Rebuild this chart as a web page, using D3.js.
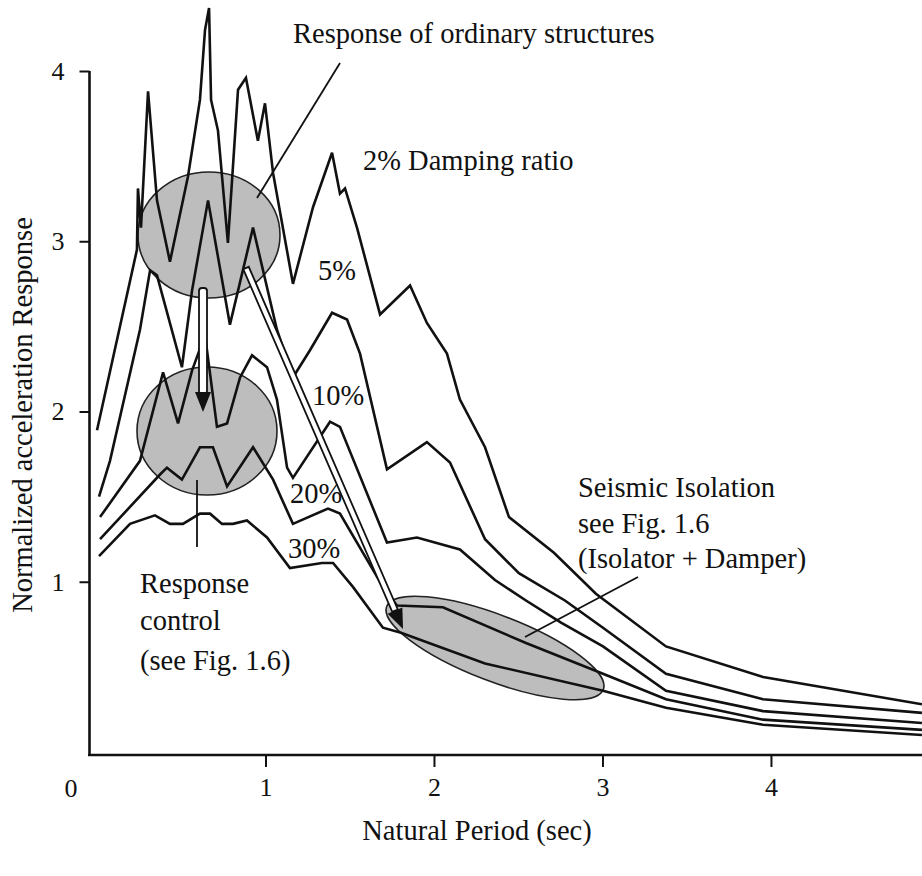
<!DOCTYPE html>
<html><head><meta charset="utf-8">
<script src="https://cdn.jsdelivr.net/npm/d3@7"></script>
<style>
html,body{margin:0;padding:0;background:#fff;}
svg{display:block;font-family:"Liberation Serif","Times New Roman",serif;}
</style></head><body>
<svg id="chart" width="922" height="876"></svg>
<script>
// ---- data (period in sec, normalized acceleration response) ----
const xTicks = [1, 2, 3, 4];
const yTicks = [1, 2, 3, 4];
const damp2 = [[0.000,1.89],[0.237,2.95],[0.243,3.31],[0.261,3.08],[0.303,3.88],[0.356,3.24],[0.433,2.88],[0.540,3.38],[0.611,3.83],[0.641,4.24],[0.665,4.37],[0.677,3.83],[0.718,3.65],[0.777,2.99],[0.837,3.89],[0.884,3.96],[0.955,3.59],[0.997,3.81],[1.045,3.40],[1.163,2.75],[1.282,3.20],[1.395,3.52],[1.442,3.28],[1.472,3.31],[1.543,3.08],[1.680,2.57],[1.858,2.74],[1.958,2.52],[2.077,2.34],[2.154,2.07],[2.303,1.79],[2.445,1.38],[2.712,1.17],[2.961,0.93],[3.377,0.62],[3.953,0.44],[4.896,0.28]];
const damp5 = [[0.012,1.50],[0.077,1.71],[0.255,2.48],[0.315,2.83],[0.356,2.80],[0.504,2.26],[0.564,2.71],[0.659,3.24],[0.789,2.51],[0.926,3.08],[1.068,2.48],[1.163,2.20],[1.264,2.36],[1.395,2.58],[1.484,2.54],[1.561,2.34],[1.721,1.66],[1.958,1.82],[2.095,1.70],[2.303,1.25],[2.504,1.05],[2.777,0.89],[3.003,0.73],[3.377,0.46],[3.953,0.31],[4.896,0.23]];
const damp10 = [[0.018,1.38],[0.255,1.71],[0.392,2.23],[0.481,1.93],[0.564,2.24],[0.641,2.45],[0.712,1.91],[0.772,1.93],[0.849,2.20],[0.920,2.33],[1.009,2.26],[1.068,2.07],[1.128,1.67],[1.163,1.61],[1.383,1.94],[1.442,1.91],[1.721,1.23],[1.899,1.26],[2.154,1.19],[2.362,1.01],[2.546,0.89],[2.754,0.76],[3.003,0.62],[3.377,0.36],[3.953,0.24],[4.896,0.17]];
const damp20 = [[0.018,1.25],[0.374,1.63],[0.415,1.67],[0.504,1.60],[0.611,1.79],[0.688,1.79],[0.772,1.56],[0.926,1.79],[1.045,1.60],[1.163,1.34],[1.371,1.43],[1.442,1.40],[1.697,0.97],[1.780,0.86],[2.053,0.85],[2.546,0.64],[3.003,0.46],[3.377,0.31],[3.953,0.19],[4.896,0.13]];
const damp30 = [[0.012,1.15],[0.196,1.34],[0.344,1.39],[0.433,1.34],[0.510,1.34],[0.611,1.40],[0.671,1.40],[0.742,1.34],[0.807,1.34],[0.890,1.36],[1.009,1.26],[1.145,1.08],[1.335,1.11],[1.401,1.11],[1.519,0.97],[1.697,0.73],[1.804,0.70],[2.303,0.52],[3.003,0.36],[3.377,0.26],[3.953,0.16],[4.896,0.10]];
const seriesList = [damp2, damp5, damp10, damp20, damp30];
const seriesLabels = ["2% Damping ratio", "5%", "10%", "20%", "30%"];

// ---- layout ----
const svg = d3.select('#chart');
const x = d3.scaleLinear().domain([0, 4.9]).range([97, 922.6]);
const y = d3.scaleLinear().domain([0, 4]).range([752, 71]);
const ink = '#111';
const FS = 28.5;

// shaded regions (ellipses) behind curves
const gE = svg.append('g');
const ellipses = [
  {cx: 209, cy: 235, rx: 71, ry: 63, rot: 0},
  {cx: 207, cy: 431, rx: 70, ry: 64, rot: 0},
  {cx: 495, cy: 648, rx: 116, ry: 33, rot: 21}
];
ellipses.forEach(e => {
  gE.append('ellipse').attr('cx', 0).attr('cy', 0).attr('rx', e.rx).attr('ry', e.ry)
    .attr('transform', `translate(${e.cx},${e.cy}) rotate(${e.rot})`)
    .attr('fill', '#bdbdbd').attr('stroke', '#222').attr('stroke-width', 1.6);
});

// curves
const line = d3.line().x(d => x(d[0])).y(d => y(d[1]));
svg.append('g').selectAll('path').data(seriesList).join('path')
  .attr('d', line).attr('fill', 'none').attr('stroke', ink)
  .attr('stroke-width', 2.6).attr('stroke-linejoin', 'miter').attr('stroke-miterlimit', 3);

// axes
const axisW = 2.6;
svg.append('line').attr('x1', 89.5).attr('x2', 89.5).attr('y1', y(4)).attr('y2', 756)
  .attr('stroke', ink).attr('stroke-width', axisW);
svg.append('line').attr('x1', 88).attr('x2', 922).attr('y1', 755).attr('y2', 755)
  .attr('stroke', ink).attr('stroke-width', axisW);

const yAxis = svg.append('g').attr('transform', 'translate(89.5,0)')
  .call(d3.axisLeft(y).tickValues(yTicks).tickSize(10).tickSizeOuter(0).tickPadding(15).tickFormat(d3.format('d')));
const xAxis = svg.append('g').attr('transform', 'translate(0,755)')
  .call(d3.axisBottom(x).tickValues(xTicks).tickSize(12).tickSizeOuter(0).tickPadding(11).tickFormat(d3.format('d')));
[yAxis, xAxis].forEach(a => {
  a.select('.domain').remove();
  a.selectAll('line').attr('stroke', ink).attr('stroke-width', 2);
  a.selectAll('text').attr('fill', ink).style('font-size', '26px')
    .style('font-family', '"Liberation Serif","Times New Roman",serif');
});
// origin label
svg.append('text').attr('x', x(0) - 26).attr('y', 797).attr('text-anchor', 'middle')
  .attr('font-size', 26).attr('fill', ink).text('0');

// axis titles
svg.append('text').attr('transform', 'translate(32,415) rotate(-90)').attr('text-anchor', 'middle')
  .attr('font-size', FS).attr('fill', ink).text('Normalized acceleration Response');
svg.append('text').attr('x', 477).attr('y', 840).attr('text-anchor', 'middle')
  .attr('font-size', FS).attr('fill', ink).text('Natural Period (sec)');

// arrows
const gA = svg.append('g');
// vertical hollow arrow
gA.append('rect').attr('x', 199).attr('y', 288).attr('width', 8).attr('height', 106).attr('rx', 3)
  .attr('fill', '#fff').attr('stroke', ink).attr('stroke-width', 1.8);
gA.append('path').attr('d', 'M195,392 L211,392 L203,412 Z').attr('fill', ink);
// diagonal hollow arrow
(function(){
  const p0 = [246, 268], p1 = [403, 629];
  const dx = p1[0]-p0[0], dy = p1[1]-p0[1], L = Math.hypot(dx, dy);
  const ux = dx/L, uy = dy/L, nx = -uy, ny = ux, hw = 3, hl = 20, hh = 8;
  const bx = p1[0]-ux*hl, by = p1[1]-uy*hl;
  gA.append('path').attr('d', `M${p0[0]+nx*hw},${p0[1]+ny*hw} L${bx+nx*hw},${by+ny*hw} L${bx-nx*hw},${by-ny*hw} L${p0[0]-nx*hw},${p0[1]-ny*hw} Z`)
    .attr('fill', '#fff').attr('stroke', ink).attr('stroke-width', 1.8);
  gA.append('path').attr('d', `M${bx+nx*hh},${by+ny*hh} L${p1[0]},${p1[1]} L${bx-nx*hh},${by-ny*hh} Z`).attr('fill', ink);
})();

// callout lines
const callouts = [[340, 63, 257, 198], [638, 577, 525, 637], [197, 480, 197, 547]];
svg.append('g').selectAll('line').data(callouts).join('line')
  .attr('x1', d => d[0]).attr('y1', d => d[1]).attr('x2', d => d[2]).attr('y2', d => d[3])
  .attr('stroke', ink).attr('stroke-width', 1.8);

// annotations
const gT = svg.append('g').attr('font-size', FS).attr('fill', ink);
const labelPos = [[363, 170], [318, 280], [312, 405], [290, 503], [288, 558]];
seriesLabels.forEach((t, i) => gT.append('text').attr('x', labelPos[i][0]).attr('y', labelPos[i][1]).text(t));
gT.append('text').attr('x', 293).attr('y', 43).text('Response of ordinary structures');
[['Response', 593], ['control', 630], ['(see Fig. 1.6)', 670]].forEach(d =>
  gT.append('text').attr('x', 140).attr('y', d[1]).text(d[0]));
[['Seismic Isolation', 497], ['see Fig. 1.6', 533], ['(Isolator + Damper)', 568]].forEach(d =>
  gT.append('text').attr('x', 578).attr('y', d[1]).text(d[0]));
</script>
</body></html>
